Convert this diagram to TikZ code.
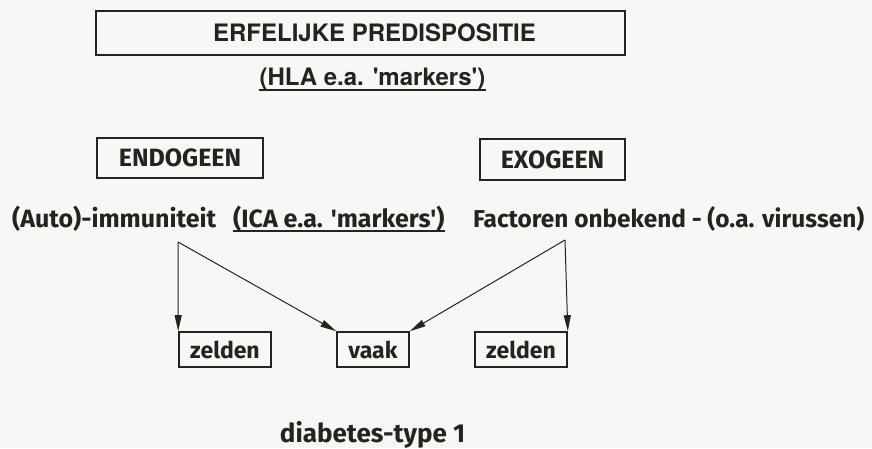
\documentclass[tikz,border=0pt]{standalone}
\usepackage{fontspec}
\newfontfamily\firaf{Fira Sans}
\newfontfamily\herosf{TeX Gyre Heros}
\usetikzlibrary{arrows.meta}
\definecolor{ink}{RGB}{38,34,30}
\definecolor{paper}{RGB}{248,247,245}
\begin{document}
\begin{tikzpicture}[x=1pt,y=-1pt,
  box/.style={draw=ink, line width=1.6pt, inner sep=0pt},
  toptxt/.style={font=\herosf\bfseries\fontsize{24}{28}\selectfont, text=ink},
  mid/.style={font=\firaf\bfseries\fontsize{25}{29}\selectfont, text=ink},
  line2/.style={font=\firaf\bfseries\fontsize{25}{29}\selectfont, text=ink, inner sep=0pt, anchor=base west},
  small/.style={font=\firaf\bfseries\fontsize{23}{27}\selectfont, text=ink},
  bottomtxt/.style={font=\firaf\bfseries\fontsize{26}{30}\selectfont, text=ink},
  arr/.style={draw=ink, line width=1pt, -{Triangle[length=16pt,width=7pt]}},
  uline/.style={draw=ink, line width=1.4pt}
]
\fill[paper] (0,0) rectangle (872,448);
\useasboundingbox (0,0) rectangle (872,448);

% top box
\node[box, toptxt, minimum width=529pt, minimum height=44pt] (top) at (360.5,33)
  {\hspace*{28pt}ERFELIJKE PREDISPOSITIE};
\node[toptxt, inner sep=0pt, anchor=base] (hla) at (372.5,85) {(HLA e.a. 'markers')};
\draw[uline] ([yshift=-5pt]hla.base west) -- ([yshift=-5pt]hla.base east);

% endo / exo
\node[box, mid, minimum width=166pt, minimum height=40pt] (endo) at (180,158) {ENDOGEEN};
\node[box, mid, minimum width=145pt, minimum height=41pt] (exo) at (552.5,159.5) {EXOGEEN};

% second line
\node[line2] (auto) at (12,227) {(Auto)-immuniteit};
\node[line2] (ica) at (233,227) {(ICA e.a. 'markers')};
\draw[uline] ([yshift=-4pt]ica.base west) -- ([yshift=-4pt]ica.base east);
\node[line2, font=\firaf\bfseries\fontsize{24.4}{28}\selectfont] (fact) at (473,227) {Factoren onbekend - (o.a. virussen)};

% result boxes
\node[box, small, minimum width=92pt, minimum height=35pt] (z1) at (225,349.5) {zelden};
\node[box, small, minimum width=72pt, minimum height=35pt] (vaak) at (373,349.5) {vaak};
\node[box, small, minimum width=92pt, minimum height=35pt] (z2) at (521,349.5) {zelden};

\coordinate (srcL) at (178,242);
\coordinate (srcR) at (565,240);
\draw[arr] (srcL) -- (z1.north west);
\draw[arr] (srcL) -- (vaak.north west);
\draw[arr] (srcR) -- (vaak.north east);
\draw[arr] (srcR) -- (z2.north east);

\node[bottomtxt, inner sep=0pt, anchor=base] (diab) at (372.5,442) {diabetes-type 1};
\end{tikzpicture}
\end{document}
